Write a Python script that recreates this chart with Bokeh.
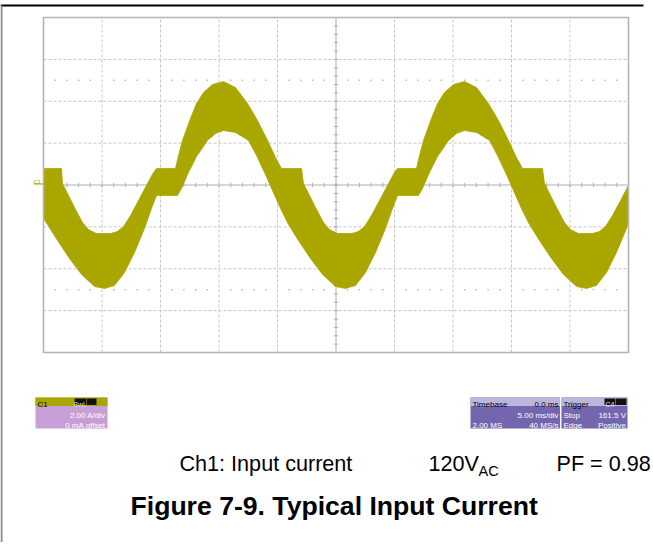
from bokeh.plotting import figure
from bokeh.models import Range1d
from bokeh.core.properties import value
from bokeh.embed import file_html
from bokeh.resources import INLINE

# ---------------- scope settings ----------------
TIME_PER_DIV = 5.0     # ms/div
AMP_PER_DIV = 2.0      # A/div
H_DIVS = 10
V_DIVS = 8

# ---------------- trace envelope ----------------
# upper edge of the rippled current trace: time (ms), current (A)
top_t = [-25.00, -23.46, -23.38, -22.35, -21.67, -21.15, -20.47, -19.27, -18.68, -18.16,
         -17.56, -16.88, -16.20, -15.60, -15.34, -13.72, -13.46, -13.12, -12.44, -11.92,
         -11.32, -10.56, -9.62, -8.59, -7.56, -6.71, -5.85, -5.17, -4.66, -2.95,
         -2.78, -1.75, -1.07, -0.56, 0.13, 1.32, 1.92, 2.44, 3.03, 3.72,
         4.40, 5.00, 5.26, 6.88, 7.14, 7.48, 8.16, 8.68, 9.27, 10.04,
         10.98, 12.01, 13.03, 13.89, 14.74, 15.43, 15.94, 17.65, 17.82, 18.85,
         19.53, 20.04, 20.73, 21.92, 22.52, 23.03, 23.63, 24.32, 25.00]
top_i = [0.79, 0.79, 0.07, -1.07, -1.79, -2.13, -2.32, -2.32, -2.22, -1.98,
         -1.46, -0.74, -0.02, 0.60, 0.79, 0.79, 1.41, 2.13, 3.18, 3.89,
         4.42, 4.80, 4.94, 4.66, 3.89, 3.08, 2.13, 1.31, 0.79, 0.79,
         0.07, -1.07, -1.79, -2.13, -2.32, -2.32, -2.22, -1.98, -1.46, -0.74,
         -0.02, 0.60, 0.79, 0.79, 1.41, 2.13, 3.18, 3.89, 4.42, 4.80,
         4.94, 4.66, 3.89, 3.08, 2.13, 1.31, 0.79, 0.79, 0.07, -1.07,
         -1.79, -2.13, -2.32, -2.32, -2.22, -1.98, -1.46, -0.74, -0.02]
# lower edge of the trace
bot_t = [-25.00, -24.66, -23.80, -22.78, -21.75, -20.64, -19.79, -18.93, -18.08, -17.22,
         -16.37, -15.77, -15.34, -13.55, -13.21, -12.61, -11.92, -10.98, -10.30, -9.62,
         -8.59, -7.48, -6.79, -6.11, -5.43, -4.74, -4.06, -3.21, -2.18, -1.15,
         -0.04, 0.81, 1.67, 2.52, 3.38, 4.23, 4.83, 5.26, 7.05, 7.39,
         7.99, 8.68, 9.62, 10.30, 10.98, 12.01, 13.12, 13.80, 14.49, 15.17,
         15.85, 16.54, 17.39, 18.42, 19.44, 20.56, 21.41, 22.26, 23.12, 23.97,
         24.83, 25.00]
bot_i = [-1.60, -1.89, -2.65, -3.51, -4.27, -4.85, -4.94, -4.80, -4.18, -3.22,
         -2.08, -1.12, -0.50, -0.50, -0.17, 0.60, 1.36, 2.13, 2.46, 2.60,
         2.51, 2.13, 1.41, 0.60, -0.26, -1.12, -1.89, -2.65, -3.51, -4.27,
         -4.85, -4.94, -4.80, -4.18, -3.22, -2.08, -1.12, -0.50, -0.50, -0.17,
         0.60, 1.36, 2.13, 2.46, 2.60, 2.51, 2.13, 1.41, 0.60, -0.26,
         -1.12, -1.89, -2.65, -3.51, -4.27, -4.85, -4.94, -4.80, -4.18, -3.22,
         -2.08, -1.79]

# ---------------- texts ----------------
c1_header = "C1"
c1_flags = ["BwL", "DC"]
c1_rows = ["2.00 A/div", "0 mA offset"]
tb_header = ["Timebase", "0.0 ms"]
tb_rows_right = ["5.00 ms/div", "40 MS/s"]
tb_rows_left = ["", "2.00 MS"]
trig_header = "Trigger"
trig_flags = ["C4", "DC"]
trig_rows_left = ["Stop", "Edge"]
trig_rows_right = ["161.5 V", "Positive"]
caption_parts = ["Ch1: Input current", "120V", "PF = 0.98"]
caption_sub = "AC"
title_text = "Figure 7-9. Typical Input Current"

# ---------------- layout (page pixels) ----------------
W, H = 651, 542
PX0, PX1 = 0, W
PY0, PY1 = 0, H
GL, GR, GT, GB = 43.0, 628.0, 17.0, 352.0   # graticule box

t_half = TIME_PER_DIV * H_DIVS / 2
i_half = AMP_PER_DIV * V_DIVS / 2
px_per_ms = (GR - GL) / (2 * t_half)
px_per_a = (GB - GT) / (2 * i_half)
x_lo = -t_half - (GL - PX0) / px_per_ms
x_hi = t_half + (PX1 - GR) / px_per_ms
y_hi = i_half + (GT - PY0) / px_per_a
y_lo = -i_half - (PY1 - GB) / px_per_a

TRACE = "#aaa600"
GRID = "#c6c6c6"
AXIS = "#b0b0b0"
FONT = value("Liberation Sans")
SMALL = value("8px")

p = figure(width=W, height=H, x_range=Range1d(x_lo, x_hi), y_range=Range1d(y_lo, y_hi),
           output_backend="svg", toolbar_location=None,
           x_axis_location=None, y_axis_location=None, min_border=0,
           outline_line_color=None, background_fill_color="white",
           border_fill_color="white")
p.grid.visible = False
p.extra_x_ranges = {"px": Range1d(PX0, PX1)}
p.extra_y_ranges = {"px": Range1d(PY1, PY0)}
R = dict(x_range_name="px", y_range_name="px")

# page edges (document crop lines)
p.segment(x0=[0], y0=[5], x1=[643], y1=[5], line_color="black", line_width=2, **R)
p.segment(x0=[1], y0=[5], x1=[1], y1=[PY1], line_color="#8a8a8a", line_width=2, **R)

# graticule
gx = [-t_half + k * TIME_PER_DIV for k in range(1, H_DIVS) if k != H_DIVS // 2]
gy = [-i_half + k * AMP_PER_DIV for k in range(1, V_DIVS) if k != V_DIVS // 2]
p.segment(x0=gx, y0=[-i_half] * len(gx), x1=gx, y1=[i_half] * len(gx),
          line_color=GRID, line_width=1, line_dash="3 2")
p.segment(x0=[-t_half] * len(gy), y0=gy, x1=[t_half] * len(gy), y1=gy,
          line_color=GRID, line_width=1, line_dash="3 2")

# dotted rows at +/- 2.5 div
minor_t = [-t_half + k * TIME_PER_DIV / 5 for k in range(1, H_DIVS * 5) if k % 5 != 0]
for yy in (2.5 * AMP_PER_DIV, -2.5 * AMP_PER_DIV):
    p.scatter(x=minor_t, y=[yy] * len(minor_t), marker="square", size=1.4,
              fill_color="#b8b8b8", line_color=None)

# center axes with ticks
p.segment(x0=[-t_half], y0=[0], x1=[t_half], y1=[0], line_color=AXIS, line_width=1)
p.segment(x0=[0], y0=[-i_half], x1=[0], y1=[i_half], line_color=AXIS, line_width=1)
mt = [-t_half + k * TIME_PER_DIV / 5 for k in range(1, H_DIVS * 5)]
hl = 2.2 / px_per_a
p.segment(x0=mt, y0=[-hl] * len(mt), x1=mt, y1=[hl] * len(mt), line_color=AXIS, line_width=1)
mi = [-i_half + k * AMP_PER_DIV / 5 for k in range(1, V_DIVS * 5)]
hw = 2.2 / px_per_ms
p.segment(x0=[-hw] * len(mi), y0=mi, x1=[hw] * len(mi), y1=mi, line_color=AXIS, line_width=1)

# trace
p.patch(x=top_t + bot_t[::-1], y=top_i + bot_i[::-1], fill_color=TRACE,
        line_color=TRACE, line_width=0.8)

# graticule outline
p.quad(left=[-t_half], right=[t_half], bottom=[-i_half], top=[i_half],
       fill_color=None, line_color="#b4b4b4", line_width=1.6)

# C1 ground marker
p.segment(x0=[33], y0=[183.5], x1=[43], y1=[183.5], line_color=TRACE, line_width=1.2, **R)
p.text(x=[33], y=[181], text=[c1_header], text_font=FONT, text_font_size=value("6px"),
       text_color=TRACE, text_align="left", text_baseline="alphabetic", **R)

# ---------- C1 info box ----------
p.quad(left=[35], right=[107], top=[397], bottom=[428], fill_color="#c79fd6", line_color=None, **R)
p.quad(left=[35], right=[107], top=[397], bottom=[405.5], fill_color=TRACE, line_color=None, **R)
p.text(x=[37], y=[404], text=[c1_header], text_font=FONT, text_font_size=SMALL,
       text_color="black", text_align="left", text_baseline="alphabetic", **R)
p.quad(left=[74, 86], right=[85.5, 96], top=[398, 398], bottom=[404.5, 404.5],
       fill_color="#111111", line_color=None, **R)
p.text(x=[79.7, 91], y=[403.8], text=c1_flags, text_font=FONT, text_font_size=value("7px"),
       text_color="#dcdcb0", text_align="center", text_baseline="alphabetic", **R)
p.text(x=[105, 105], y=[414.5, 424.5], text=c1_rows, text_font=FONT, text_font_size=SMALL,
       text_color="white", text_align="right", text_baseline="alphabetic", **R)

# ---------- Timebase box ----------
p.quad(left=[470, 561], right=[559.5, 627], top=[397, 397], bottom=[428, 428],
       fill_color="#7466ae", line_color=None, **R)
p.quad(left=[470, 561], right=[559.5, 627], top=[397, 397], bottom=[405.5, 405.5],
       fill_color="#bdb5dd", line_color=None, **R)
p.text(x=[472], y=[404], text=[tb_header[0]], text_font=FONT, text_font_size=SMALL,
       text_color="black", text_align="left", text_baseline="alphabetic", **R)
p.text(x=[558], y=[404], text=[tb_header[1]], text_font=FONT, text_font_size=SMALL,
       text_color="black", text_align="right", text_baseline="alphabetic", **R)
p.text(x=[558, 558], y=[414.5, 424.5], text=tb_rows_right, text_font=FONT,
       text_font_size=SMALL, text_color="white", text_align="right",
       text_baseline="alphabetic", **R)
p.text(x=[472, 472], y=[414.5, 424.5], text=tb_rows_left, text_font=FONT,
       text_font_size=SMALL, text_color="white", text_align="left",
       text_baseline="alphabetic", **R)

# ---------- Trigger box ----------
p.text(x=[563], y=[404], text=[trig_header], text_font=FONT, text_font_size=SMALL,
       text_color="black", text_align="left", text_baseline="alphabetic", **R)
p.quad(left=[604, 615.5], right=[615, 626], top=[398, 398], bottom=[404.5, 404.5],
       fill_color="#111111", line_color=None, **R)
p.text(x=[609.5, 620.7], y=[403.8], text=trig_flags, text_font=FONT, text_font_size=value("7px"),
       text_color="#e8e8e8", text_align="center", text_baseline="alphabetic", **R)
p.text(x=[563, 563], y=[414.5, 424.5], text=trig_rows_left, text_font=FONT,
       text_font_size=SMALL, text_color="white", text_align="left",
       text_baseline="alphabetic", **R)
p.text(x=[625.5, 625.5], y=[414.5, 424.5], text=trig_rows_right, text_font=FONT,
       text_font_size=SMALL, text_color="white", text_align="right",
       text_baseline="alphabetic", **R)

# ---------- captions ----------
p.text(x=[179, 428, 556], y=[463, 463, 463], text=caption_parts, text_font=FONT,
       text_font_size=value("21.6px"), text_color="black", text_align="left",
       text_baseline="alphabetic", **R)
p.text(x=[478], y=[470], text=[caption_sub], text_font=FONT, text_font_size=value("14.5px"),
       text_color="black", text_align="left", text_baseline="alphabetic", **R)
p.text(x=[130], y=[505], text=[title_text], text_font=FONT, text_font_size=value("26.6px"),
       text_font_style="bold", text_color="black", text_align="left",
       text_baseline="alphabetic", **R)

open("out.html", "w").write(file_html(p, INLINE))
